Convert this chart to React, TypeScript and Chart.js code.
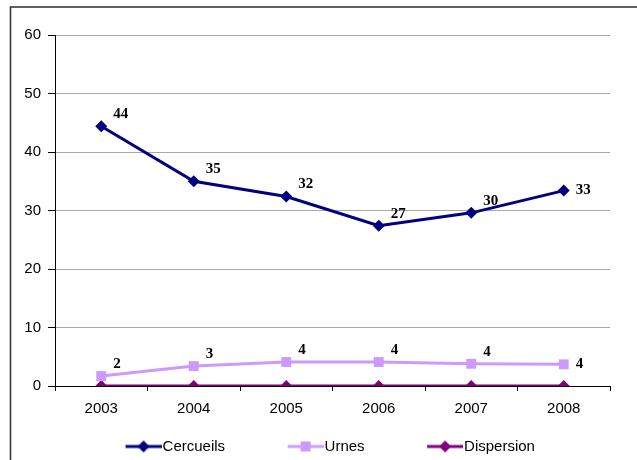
import React, { useEffect, useRef } from "react";
import { Chart, registerables } from "chart.js";

Chart.register(...registerables);

// ---- data ----
const years = ["2003", "2004", "2005", "2006", "2007", "2008"];
const cercueils = [44.4, 35.0, 32.4, 27.4, 29.6, 33.4];
const urnes = [1.7, 3.4, 4.1, 4.1, 3.8, 3.7];
const dispersion = [0, 0, 0, 0, 0, 0];
const seriesNames = ["Cercueils", "Urnes", "Dispersion"];
const yMin = 0;
const yMax = 60;
const yStep = 10;

const COLORS = ["#000080", "#CC99FF", "#800080"];
const POINT_STYLES = ["rectRot", "rect", "rectRot"];
const POINT_RADII = [6, 7, 6];
const SHOW_LABELS = [true, true, false];

const AXIS_FONT = { family: "'Liberation Sans', Arial, sans-serif", size: 15 };
const LABEL_FONT = "bold 15px 'Liberation Serif', 'Times New Roman', serif";

function makeLegendImage(i: number): HTMLCanvasElement {
  const W = 93;
  const H = 16;
  const c = document.createElement("canvas");
  c.width = W;
  c.height = H;
  const ctx = c.getContext("2d")!;
  ctx.strokeStyle = COLORS[i];
  ctx.fillStyle = COLORS[i];
  ctx.lineWidth = 3;
  ctx.beginPath();
  ctx.moveTo(W - 36, H / 2);
  ctx.lineTo(W, H / 2);
  ctx.stroke();
  const cx = W - 18;
  const cy = H / 2;
  ctx.beginPath();
  if (POINT_STYLES[i] === "rect") {
    ctx.rect(cx - 5, cy - 5, 10, 10);
  } else {
    const r = POINT_RADII[i];
    ctx.moveTo(cx, cy - r);
    ctx.lineTo(cx + r, cy);
    ctx.lineTo(cx, cy + r);
    ctx.lineTo(cx - r, cy);
    ctx.closePath();
  }
  ctx.fill();
  return c;
}

const framePlugin = {
  id: "frame",
  beforeDraw(chart: any) {
    const ctx = chart.ctx;
    ctx.save();
    ctx.fillStyle = "#ffffff";
    ctx.fillRect(0, 0, chart.width, chart.height);
    ctx.strokeStyle = "#3a3a3a";
    ctx.lineWidth = 1.6;
    ctx.strokeRect(10.5, 7, chart.width + 20, chart.height + 20);
    ctx.restore();
  },
};

const valueLabelPlugin = {
  id: "valueLabels",
  afterDatasetsDraw(chart: any) {
    const ctx = chart.ctx;
    ctx.save();
    ctx.font = LABEL_FONT;
    ctx.fillStyle = "#000000";
    ctx.textAlign = "left";
    ctx.textBaseline = "middle";
    chart.data.datasets.forEach((ds: any, di: number) => {
      if (!SHOW_LABELS[di]) return;
      const meta = chart.getDatasetMeta(di);
      meta.data.forEach((pt: any, i: number) => {
        const last = i === meta.data.length - 1;
        const txt = String(Math.round(ds.data[i]));
        const dx = 12;
        const dy = last ? 0 : -12;
        ctx.fillText(txt, pt.x + dx, pt.y + dy);
      });
    });
    ctx.restore();
  },
};

export default function App() {
  const ref = useRef<HTMLCanvasElement | null>(null);

  useEffect(() => {
    document.body.style.margin = "0";
    const canvas = ref.current;
    if (!canvas) return;
    const legendImgs = [0, 1, 2].map(makeLegendImage);
    const seriesData = [cercueils, urnes, dispersion];

    const chart = new Chart(canvas, {
      type: "line",
      data: {
        labels: years,
        datasets: seriesData.map((d, i) => ({
          label: seriesNames[i],
          data: d,
          borderColor: COLORS[i],
          backgroundColor: COLORS[i],
          borderWidth: 3,
          pointStyle: POINT_STYLES[i] as any,
          pointRadius: POINT_RADII[i],
          pointBorderWidth: 0,
          pointBackgroundColor: COLORS[i],
          tension: 0,
          fill: false,
        })),
      },
      options: {
        responsive: false,
        animation: false,
        devicePixelRatio: window.devicePixelRatio || 1,
        layout: { padding: { top: 35, right: 27, bottom: -4, left: 0 } },
        plugins: {
          tooltip: { enabled: false },
          legend: {
            position: "bottom",
            labels: {
              usePointStyle: true,
              pointStyleWidth: 80,
              padding: 12,
              color: "#000000",
              font: AXIS_FONT,
              generateLabels: (c: any) =>
                c.data.datasets.map((ds: any, i: number) => ({
                  text: ds.label,
                  pointStyle: legendImgs[i],
                  fillStyle: "transparent",
                  strokeStyle: "transparent",
                  lineWidth: 0,
                  hidden: false,
                  datasetIndex: i,
                  fontColor: "#000000",
                })),
            },
          },
        },
        scales: {
          x: {
            offset: true,
            grid: {
              offset: true,
              drawOnChartArea: false,
              drawTicks: true,
              tickLength: 5,
              tickColor: "#000000",
              tickWidth: 1,
            },
            border: { display: true, color: "#000000", width: 1 },
            ticks: { color: "#000000", font: AXIS_FONT, padding: 9, maxRotation: 0 },
          },
          y: {
            min: yMin,
            max: yMax,
            afterFit: (s: any) => {
              s.width = 55;
            },
            grid: {
              color: (c: any) => (c.tick && c.tick.value === 0 ? "rgba(0,0,0,0)" : "#a8a8a8"),
              lineWidth: 1,
              drawTicks: true,
              tickLength: 7,
              tickColor: "#000000",
            },
            border: { display: true, color: "#000000", width: 1 },
            ticks: { stepSize: yStep, color: "#000000", font: AXIS_FONT, padding: 7 },
          },
        },
      },
      plugins: [framePlugin, valueLabelPlugin],
    });
    return () => chart.destroy();
  }, []);

  return (
    <div style={{ width: 637, height: 460 }}>
      <canvas ref={ref} width={637} height={460} style={{ display: "block" }} />
    </div>
  );
}
